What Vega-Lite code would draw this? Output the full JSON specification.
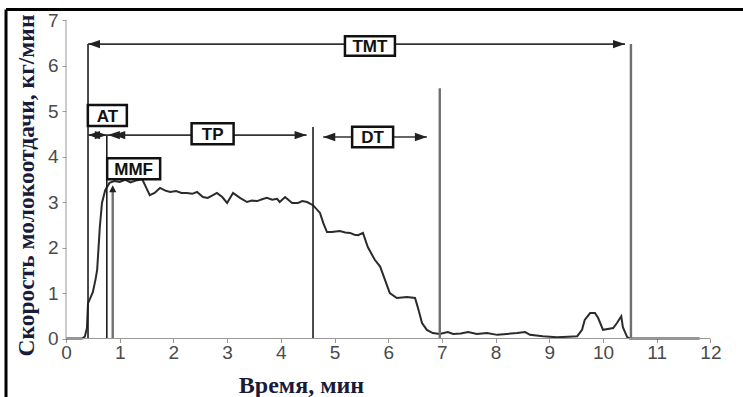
{
  "$schema": "https://vega.github.io/schema/vega-lite/v6.json",
  "width": 743,
  "height": 397,
  "autosize": {"type": "none"},
  "padding": 0,
  "background": "white",
  "config": {"view": {"stroke": null}, "axis": {"grid": false}},
  "datasets": {
    "curve": [
      {"t": 0, "rate": 0}, {"t": 0.3, "rate": 0}, {"t": 0.35, "rate": 0.04}, {"t": 0.39, "rate": 0.23},
      {"t": 0.41, "rate": 0.78}, {"t": 0.45, "rate": 0.88}, {"t": 0.5, "rate": 1.02}, {"t": 0.55, "rate": 1.3},
      {"t": 0.58, "rate": 1.51}, {"t": 0.63, "rate": 2.45}, {"t": 0.67, "rate": 2.98}, {"t": 0.73, "rate": 3.26},
      {"t": 0.81, "rate": 3.42}, {"t": 0.9, "rate": 3.46}, {"t": 1.0, "rate": 3.44}, {"t": 1.1, "rate": 3.49},
      {"t": 1.2, "rate": 3.43}, {"t": 1.3, "rate": 3.47}, {"t": 1.42, "rate": 3.5}, {"t": 1.5, "rate": 3.3},
      {"t": 1.56, "rate": 3.15}, {"t": 1.65, "rate": 3.2}, {"t": 1.75, "rate": 3.31}, {"t": 1.85, "rate": 3.25},
      {"t": 1.94, "rate": 3.22}, {"t": 2.05, "rate": 3.24}, {"t": 2.15, "rate": 3.2}, {"t": 2.25, "rate": 3.2},
      {"t": 2.35, "rate": 3.18}, {"t": 2.44, "rate": 3.22}, {"t": 2.55, "rate": 3.11}, {"t": 2.64, "rate": 3.09},
      {"t": 2.72, "rate": 3.14}, {"t": 2.81, "rate": 3.2}, {"t": 2.91, "rate": 3.11}, {"t": 3.0, "rate": 2.98},
      {"t": 3.11, "rate": 3.2}, {"t": 3.24, "rate": 3.09}, {"t": 3.37, "rate": 3.0}, {"t": 3.46, "rate": 3.03},
      {"t": 3.56, "rate": 3.02}, {"t": 3.65, "rate": 3.06}, {"t": 3.74, "rate": 3.09}, {"t": 3.84, "rate": 3.05},
      {"t": 3.93, "rate": 3.07}, {"t": 3.98, "rate": 3.0}, {"t": 4.08, "rate": 3.11}, {"t": 4.15, "rate": 3.04},
      {"t": 4.21, "rate": 2.98}, {"t": 4.32, "rate": 2.98}, {"t": 4.4, "rate": 3.02}, {"t": 4.49, "rate": 3.0},
      {"t": 4.6, "rate": 2.93}, {"t": 4.73, "rate": 2.76}, {"t": 4.79, "rate": 2.54}, {"t": 4.86, "rate": 2.34},
      {"t": 4.95, "rate": 2.34}, {"t": 5.1, "rate": 2.36}, {"t": 5.2, "rate": 2.33}, {"t": 5.29, "rate": 2.32},
      {"t": 5.37, "rate": 2.28}, {"t": 5.44, "rate": 2.27}, {"t": 5.53, "rate": 2.32}, {"t": 5.62, "rate": 2.01},
      {"t": 5.75, "rate": 1.73}, {"t": 5.85, "rate": 1.58}, {"t": 5.94, "rate": 1.29}, {"t": 6.03, "rate": 1.0},
      {"t": 6.16, "rate": 0.89}, {"t": 6.35, "rate": 0.91}, {"t": 6.5, "rate": 0.89}, {"t": 6.55, "rate": 0.69},
      {"t": 6.63, "rate": 0.34}, {"t": 6.72, "rate": 0.19}, {"t": 6.83, "rate": 0.12}, {"t": 6.96, "rate": 0.1},
      {"t": 7.11, "rate": 0.14}, {"t": 7.21, "rate": 0.1}, {"t": 7.35, "rate": 0.11}, {"t": 7.49, "rate": 0.14},
      {"t": 7.65, "rate": 0.1}, {"t": 7.84, "rate": 0.12}, {"t": 8.03, "rate": 0.08}, {"t": 8.21, "rate": 0.1},
      {"t": 8.4, "rate": 0.12}, {"t": 8.55, "rate": 0.14}, {"t": 8.64, "rate": 0.08}, {"t": 8.88, "rate": 0.05},
      {"t": 9.14, "rate": 0.03}, {"t": 9.35, "rate": 0.04}, {"t": 9.52, "rate": 0.05}, {"t": 9.61, "rate": 0.19},
      {"t": 9.66, "rate": 0.41}, {"t": 9.76, "rate": 0.56}, {"t": 9.85, "rate": 0.56}, {"t": 9.91, "rate": 0.45},
      {"t": 10.0, "rate": 0.19}, {"t": 10.09, "rate": 0.21}, {"t": 10.19, "rate": 0.23}, {"t": 10.26, "rate": 0.34},
      {"t": 10.34, "rate": 0.49}, {"t": 10.37, "rate": 0.25}, {"t": 10.45, "rate": 0.03}, {"t": 10.5, "rate": 0},
      {"t": 11.8, "rate": 0}
    ],
    "darkLines": [
      {"x": 0.41, "y": 0, "y2": 6.47},
      {"x": 0.76, "y": 0, "y2": 4.47},
      {"x": 4.6, "y": 0, "y2": 4.65}
    ],
    "greyLines": [
      {"x": 6.96, "y": 0, "y2": 5.5},
      {"x": 10.52, "y": 0, "y2": 6.47},
      {"x": 0.87, "y": 0, "y2": 3.3}
    ],
    "spans": [
      {"x": 0.41, "x2": 10.41, "y": 6.47},
      {"x": 0.41, "x2": 4.48, "y": 4.47},
      {"x": 4.79, "x2": 6.72, "y": 4.43}
    ],
    "heads": [
      {"x": 0.41, "y": 6.47, "dir": "left"},
      {"x": 10.41, "y": 6.47, "dir": "right"},
      {"x": 0.41, "y": 4.47, "dir": "left"},
      {"x": 0.76, "y": 4.47, "dir": "right"},
      {"x": 0.78, "y": 4.47, "dir": "left"},
      {"x": 0.88, "y": 4.47, "dir": "left"},
      {"x": 4.48, "y": 4.47, "dir": "right"},
      {"x": 4.79, "y": 4.43, "dir": "left"},
      {"x": 6.72, "y": 4.43, "dir": "right"},
      {"x": 0.87, "y": 3.37, "dir": "up"}
    ],
    "boxes": [
      {"x": 5.66, "y": 6.43, "label": "TMT"},
      {"x": 0.77, "y": 4.9, "label": "AT"},
      {"x": 2.73, "y": 4.5, "label": "TP"},
      {"x": 5.71, "y": 4.43, "label": "DT"},
      {"x": 1.26, "y": 3.73, "label": "MMF"}
    ],
    "one": [{}]
  },
  "layer": [
    {
      "data": {"name": "curve"},
      "mark": {"type": "line", "color": "#2b2b2b", "strokeWidth": 2},
      "encoding": {
        "x": {
          "field": "t", "type": "quantitative",
          "scale": {"domain": [-1.229, 12.607], "nice": false, "zero": false},
          "axis": {
            "title": "Время, мин", "orient": "bottom", "offset": -58.5,
            "values": [0, 0.5, 1, 1.5, 2, 2.5, 3, 3.5, 4, 4.5, 5, 5.5, 6, 6.5, 7, 7.5, 8, 8.5, 9, 9.5, 10, 10.5, 11, 11.5, 12],
            "labelExpr": "datum.value % 1 == 0 ? datum.label : ''",
            "domain": false, "tickSize": 4, "tickColor": "#999", "tickWidth": 1,
            "labelFont": "Liberation Sans", "labelFontSize": 19, "labelColor": "#4a4a4a", "labelPadding": 1,
            "labelFlush": false, "labelOverlap": false,
            "titleFont": "Liberation Serif", "titleFontSize": 24, "titleFontWeight": "bold", "titleColor": "#1a1a3a",
            "titleX": 301, "titleY": 54, "titleBaseline": "alphabetic", "titleAlign": "center", "titleAnchor": null
          }
        },
        "y": {
          "field": "rate", "type": "quantitative",
          "scale": {"domain": [-1.2857, 7.4396], "nice": false, "zero": false},
          "axis": {
            "title": "Скорость молокоотдачи, кг/мин", "orient": "left", "offset": -66,
            "values": [0, 0.5, 1, 1.5, 2, 2.5, 3, 3.5, 4, 4.5, 5, 5.5, 6, 6.5, 7],
            "labelExpr": "datum.value % 1 == 0 ? datum.label : ''",
            "domain": false, "tickSize": 4, "tickColor": "#999", "tickWidth": 1,
            "labelFont": "Liberation Sans", "labelFontSize": 19, "labelColor": "#4a4a4a", "labelPadding": 4,
            "labelFlush": false, "labelOverlap": false,
            "titleFont": "Liberation Serif", "titleFontSize": 23.5, "titleFontWeight": "bold", "titleColor": "#1a1a3a",
            "titleAngle": -90, "titleX": -33, "titleY": 185, "titleBaseline": "alphabetic", "titleAlign": "center", "titleAnchor": null
          }
        }
      }
    },
    {
      "data": {"name": "darkLines"},
      "mark": {"type": "rule", "color": "#1e1e1e", "strokeWidth": 1.6},
      "encoding": {
        "x": {"field": "x", "type": "quantitative"},
        "y": {"field": "y", "type": "quantitative"},
        "y2": {"field": "y2"}
      }
    },
    {
      "data": {"name": "greyLines"},
      "mark": {"type": "rule", "color": "#707070", "strokeWidth": 2.4},
      "encoding": {
        "x": {"field": "x", "type": "quantitative"},
        "y": {"field": "y", "type": "quantitative"},
        "y2": {"field": "y2"}
      }
    },
    {
      "data": {"name": "spans"},
      "mark": {"type": "rule", "color": "#333", "strokeWidth": 1.6},
      "encoding": {
        "x": {"field": "x", "type": "quantitative"},
        "x2": {"field": "x2"},
        "y": {"field": "y", "type": "quantitative"}
      }
    },
    {
      "data": {"name": "heads"},
      "mark": {"type": "point", "filled": true, "color": "#222", "opacity": 1, "size": 576, "strokeWidth": 0},
      "encoding": {
        "x": {"field": "x", "type": "quantitative"},
        "y": {"field": "y", "type": "quantitative"},
        "shape": {
          "field": "dir", "type": "nominal", "legend": null,
          "scale": {"domain": ["left", "right", "up"], "range": ["M0,0L1,-0.35L1,0.35Z", "M0,0L-1,-0.35L-1,0.35Z", "M0,0L-0.3,0.6L0.3,0.6Z"]}
        }
      }
    },
    {
      "data": {"name": "boxes"},
      "mark": {"type": "point", "fill": "white", "fillOpacity": 1, "stroke": "#111", "strokeWidth": 2.5, "strokeOpacity": 1, "opacity": 1, "size": 3600},
      "encoding": {
        "x": {"field": "x", "type": "quantitative"},
        "y": {"field": "y", "type": "quantitative"},
        "shape": {
          "field": "label", "type": "nominal", "legend": null,
          "scale": {"domain": ["TMT", "AT", "TP", "DT", "MMF"], "range": [
            "M-0.833,-0.325H0.833V0.325H-0.833Z",
            "M-0.65,-0.35H0.65V0.35H-0.65Z",
            "M-0.7,-0.35H0.7V0.35H-0.7Z",
            "M-0.683,-0.34H0.683V0.34H-0.683Z",
            "M-0.883,-0.35H0.883V0.35H-0.883Z"
          ]}
        }
      }
    },
    {
      "data": {"name": "boxes"},
      "mark": {"type": "text", "font": "Liberation Sans", "fontSize": 17, "fontWeight": "bold", "color": "#111", "align": "center", "baseline": "middle", "dy": 1},
      "encoding": {
        "x": {"field": "x", "type": "quantitative"},
        "y": {"field": "y", "type": "quantitative"},
        "text": {"field": "label"}
      }
    },
    {
      "data": {"name": "one"},
      "mark": {"type": "rule", "color": "#999", "strokeWidth": 1},
      "encoding": {
        "x": {"datum": 0, "type": "quantitative"},
        "y": {"datum": 0, "type": "quantitative"},
        "y2": {"datum": 7}
      }
    },
    {
      "data": {"name": "one"},
      "mark": {"type": "rule", "color": "#999", "strokeWidth": 1},
      "encoding": {
        "x": {"datum": 0, "type": "quantitative"},
        "x2": {"datum": 12},
        "y": {"datum": 0, "type": "quantitative"}
      }
    },
    {
      "data": {"name": "one"},
      "mark": {"type": "rule", "color": "#000", "strokeWidth": 3},
      "encoding": {
        "x": {"datum": -1.117, "type": "quantitative"},
        "x2": {"datum": 12.607},
        "y": {"datum": 7.231, "type": "quantitative"}
      }
    },
    {
      "data": {"name": "one"},
      "mark": {"type": "rule", "color": "#000", "strokeWidth": 3},
      "encoding": {
        "x": {"datum": -1.117, "type": "quantitative"},
        "y": {"datum": -1.2857, "type": "quantitative"},
        "y2": {"datum": 7.231}
      }
    }
  ],
  "resolve": {"scale": {"shape": "independent"}}
}
